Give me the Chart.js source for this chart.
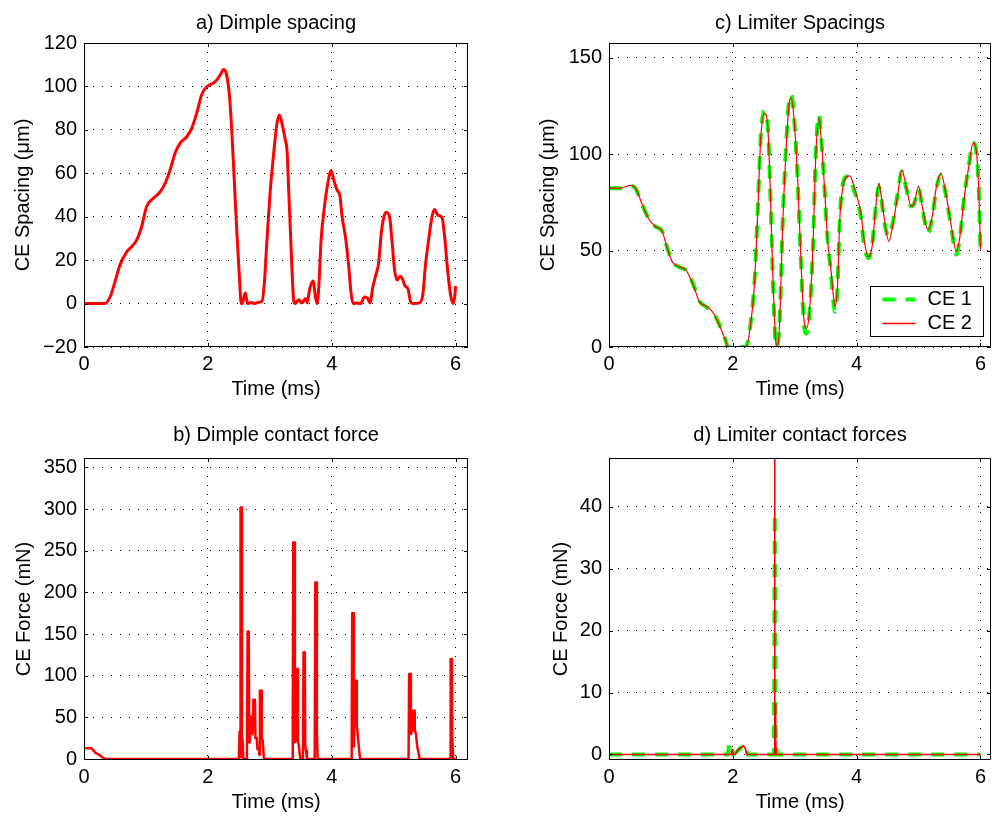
<!DOCTYPE html>
<html>
<head>
<meta charset="utf-8">
<title>CE spacing and contact forces</title>
<script src="https://cdn.jsdelivr.net/npm/chart.js@4.4.0/dist/chart.umd.min.js"></script>
<style>
    html, body { margin: 0; padding: 0; background: #fff; overflow: hidden; }
    canvas { position: absolute; }
</style>
</head>
<body>
<canvas id="chartA" width="496" height="410" style="left:0;top:0"></canvas>
<canvas id="chartB" width="496" height="409" style="left:0;top:410px"></canvas>
<canvas id="chartC" width="504" height="410" style="left:496px;top:0"></canvas>
<canvas id="chartD" width="504" height="409" style="left:496px;top:410px"></canvas>
<script>
// a) dimple spacing (um) against time (ms)
var dimpleTime = [0, 0.33, 0.42, 0.50, 0.58, 0.69, 0.77, 0.85, 0.93, 1.01,
    1.12, 1.23, 1.31, 1.39, 1.47, 1.55, 1.66, 1.74, 1.82, 1.90,
    1.98, 2.12, 2.20, 2.253, 2.297, 2.35, 2.388, 2.426, 2.469, 2.512,
    2.539, 2.566, 2.604, 2.641, 2.70, 2.76, 2.82, 2.873, 2.911, 2.954,
    3.008, 3.062, 3.116, 3.154, 3.197, 3.251, 3.278, 3.305, 3.343, 3.386,
    3.413, 3.467, 3.521, 3.575, 3.602, 3.645, 3.699, 3.737, 3.764, 3.791,
    3.828, 3.882, 3.936, 3.990, 4.033, 4.087, 4.130, 4.168, 4.221, 4.275,
    4.313, 4.346, 4.40, 4.464, 4.529, 4.583, 4.62, 4.664, 4.718, 4.756,
    4.799, 4.842, 4.880, 4.934, 4.972, 5.015, 5.058, 5.106, 5.149, 5.187,
    5.230, 5.273, 5.311, 5.419, 5.473, 5.510, 5.564, 5.618, 5.661, 5.715,
    5.780, 5.823, 5.866, 5.915, 5.958, 5.985, 6.00];
var dimpleSpacing = [0, 0, 3, 10, 17.7, 23.8, 26.2, 29.2, 35.4, 44.6,
    48.5, 51.5, 55.4, 61.5, 69.2, 73.8, 76.9, 80.8, 87.7, 96.2,
    99.7, 102.2, 105.3, 107.8, 106, 95.3, 78.4, 56.9, 32.3, 10.8,
    0, 0.8, 5, 0, 0.5, 0, 0.6, 1, 9.2, 29.2,
    52.2, 69.1, 82.9, 86.8, 82.9, 75.2, 70.6, 52.2, 26.1, 1.5,
    0, 1.8, 0.3, 2.3, 0.3, 6.9, 10.4, 3, 0, 7.7,
    29.2, 44.5, 55.3, 61.2, 56.9, 52.2, 49.9, 39.9, 30.7, 16.9,
    4.6, 0, 0.3, 0, 3, 2.3, 0.3, 7.7, 13.8, 18.4,
    32.2, 39.9, 41.9, 39.9, 29.2, 15.4, 10.8, 12.6, 10.8, 8,
    6.9, 0.8, 0, 0.3, 4.6, 16.9, 29.2, 39.9, 43.3, 40.7,
    39.6, 30.7, 16.9, 4.6, 0, 3, 8];

// b) dimple contact force (mN)
var dimpleForceTime = [0, 0.124, 0.178, 0.232, 0.286, 0.34,
    2.50, 2.512, 2.520, 2.527, 2.540, 2.550, 2.560, 2.572,
    2.630, 2.642, 2.660, 2.668, 2.680, 2.715, 2.722, 2.735, 2.760, 2.768,
    2.790, 2.800, 2.822, 2.832, 2.840, 2.862, 2.870, 2.885, 2.905,
    3.370, 3.378, 3.398, 3.405, 3.425, 3.432, 3.448, 3.455, 3.470, 3.485, 3.495,
    3.535, 3.545, 3.565, 3.572, 3.585, 3.600,
    3.725, 3.735, 3.752, 3.760, 3.772,
    4.322, 4.330, 4.350, 4.358, 4.380, 4.398, 4.405, 4.425, 4.445, 4.460,
    5.240, 5.250, 5.270, 5.278, 5.300, 5.310, 5.330, 5.340, 5.360, 5.380, 5.400, 5.420,
    5.912, 5.920, 5.940, 5.945, 5.955, 5.962, 6.00];
var dimpleForce = [12.9, 12.9, 8, 5.6, 2.8, 0,
    0, 33, 2, 302, 302, 4, 23, 0,
    0, 153, 153, 20, 51, 51, 30, 71, 71, 25,
    25, 12, 13, 5, 82, 82, 25, 22, 0,
    0, 260, 260, 20, 22, 108, 108, 22, 15, 5, 0,
    0, 128, 128, 15, 10, 0,
    0, 212, 212, 35, 0,
    0, 175, 175, 15, 94, 94, 40, 25, 8, 0,
    0, 102, 102, 30, 35, 58, 58, 35, 30, 15, 8, 0,
    0, 120, 120, 27, 27, 0, 0];

// c) limiter spacings (um), both contact elements on one time base
var limiterTime = [0, 0.19, 0.35, 0.43, 0.54, 0.65, 0.75, 0.86, 0.94, 1.02,
    1.13, 1.24, 1.35, 1.46, 1.56, 1.67, 1.78, 1.89, 1.92, 2.21,
    2.29, 2.35, 2.40, 2.45, 2.51, 2.56, 2.61, 2.65, 2.70, 2.72,
    2.76, 2.80, 2.86, 2.91, 2.94, 2.99, 3.05, 3.10, 3.15, 3.19,
    3.23, 3.29, 3.34, 3.39, 3.42, 3.48, 3.53, 3.58, 3.62, 3.65,
    3.69, 3.73, 3.78, 3.85, 3.89, 3.95, 4.02, 4.07, 4.12, 4.19,
    4.25, 4.31, 4.36, 4.39, 4.45, 4.52, 4.58, 4.66, 4.73, 4.80,
    4.88, 4.93, 5.00, 5.06, 5.15, 5.23, 5.28, 5.36, 5.44, 5.53,
    5.61, 5.66, 5.74, 5.82, 5.88, 5.93, 5.97, 6.00];
var ce1Spacing = [82.4, 82.4, 83.6, 82.2, 73.5, 66, 62.5, 60, 51.5, 44.5,
    41.5, 39.8, 33.5, 23.8, 21, 18.5, 11.8, 3, 0, 0,
    13, 34, 69, 108.5, 122.5, 117, 76, 32, 0, 0.5,
    16.5, 60, 104, 128.5, 131, 119, 84.5, 44, 12, 7,
    14, 48, 99.5, 120.5, 112, 83, 56, 40, 25, 18.3,
    30, 68, 85, 88.5, 88, 82, 75, 67, 53, 46,
    53, 73, 83, 79, 64, 57.5, 64, 79, 91, 82.5,
    73, 74.5, 82, 72.5, 59, 69, 81, 89, 79, 61.5,
    48, 55, 78.5, 96, 106, 102, 84, 52];
var ce2Spacing = [82.4, 82.4, 83.8, 82.4, 73.7, 66, 62.5, 59.9, 51.2, 44.3,
    41.7, 40, 33.1, 23.5, 21.3, 18.3, 11.4, 2.8, 0, 0,
    12.3, 33, 67.7, 107.5, 121.3, 116.2, 76.3, 33, 1, 0,
    15.8, 59, 102.3, 126.5, 129.1, 117.9, 85, 45.2, 14, 9.7,
    15.8, 48.6, 98.8, 118.7, 111, 83.3, 55.6, 41.7, 27.9, 21,
    31.3, 67.7, 83.3, 88.5, 88.8, 84.1, 76.3, 69.4, 55.6, 46.9,
    52.1, 72.9, 85, 79.8, 66, 54.7, 62.5, 78.1, 91.9, 83.3,
    72.9, 74.6, 83.3, 72.9, 60.8, 69.4, 81.5, 90.2, 79.8, 62.5,
    49.5, 55.6, 78.1, 95.4, 105.8, 102.3, 83.3, 50.4];

// d) limiter contact forces (mN)
var ce1ForceTime = [0, 1.92, 1.94, 1.96, 2.00, 2.06, 2.10, 2.16, 2.20, 2.24, 2.665, 2.678, 2.688, 2.70, 2.71, 6.0];
var ce1Force = [0, 0, 1.5, 0.2, 0, 0.4, 0.8, 1.4, 1.5, 0, 0, 39, 6, 2, 0, 0];
var ce2ForceTime = [0, 1.97, 1.99, 2.00, 2.04, 2.08, 2.12, 2.17, 2.20, 2.23, 2.668, 2.675, 2.680, 2.684, 2.692, 2.70, 6.0];
var ce2Force = [0, 0, 0.8, 0, 0, 0.7, 1.0, 1.4, 1.0, 0, 0, 60, 0.5, 8, 3, 0, 0];

// tick positions
var timeTicks = [0, 2, 4, 6];
var dimpleSpacingTicks = [-20, 0, 20, 40, 60, 80, 100, 120];
var dimpleForceTicks = [0, 50, 100, 150, 200, 250, 300, 350];
var limiterSpacingTicks = [0, 50, 100, 150];
var limiterForceTicks = [0, 10, 20, 30, 40];

var FONT = "'Liberation Sans', Arial, Helvetica, sans-serif";
var FONT_SIZE = 20;
var RED = '#ff0000';
var GREEN = '#00ff00';

Chart.defaults.color = '#000';

function toPoints(xs, ys) {
    var pts = [];
    for (var i = 0; i < xs.length; i++) {
        pts.push({ x: xs[i], y: ys[i] });
    }
    return pts;
}

function fixedTicks(values) {
    return function (scale) {
        scale.ticks = values.map(function (v) { return { value: v }; });
    };
}

function tickLabel(v) {
    return v < 0 ? '\u2212' + Math.abs(v) : String(v);
}

// axes box with short inward tick marks on all four sides
var axesBox = {
    id: 'axesBox',
    afterDatasetsDraw: function (chart) {
        var ctx = chart.ctx, a = chart.chartArea;
        var xs = chart.scales.x, ys = chart.scales.y, len = 4;
        ctx.save();
        ctx.strokeStyle = '#000';
        ctx.lineWidth = 1;
        ctx.setLineDash([]);
        ctx.beginPath();
        ctx.rect(a.left + 0.5, a.top + 0.5, a.right - a.left - 1, a.bottom - a.top - 1);
        xs.ticks.forEach(function (t) {
            var px = Math.round(xs.getPixelForValue(t.value)) + 0.5;
            ctx.moveTo(px, a.bottom); ctx.lineTo(px, a.bottom - len);
            ctx.moveTo(px, a.top); ctx.lineTo(px, a.top + len);
        });
        ys.ticks.forEach(function (t) {
            var py = Math.round(ys.getPixelForValue(t.value)) + 0.5;
            ctx.moveTo(a.left, py); ctx.lineTo(a.left + len, py);
            ctx.moveTo(a.right, py); ctx.lineTo(a.right - len, py);
        });
        ctx.stroke();
        ctx.restore();
    }
};

// boxed legend in the lower right corner of the plot
var cornerLegend = {
    id: 'cornerLegend',
    afterDraw: function (chart) {
        var ctx = chart.ctx, a = chart.chartArea;
        var w = 113, h = 50;
        var left = Math.round(a.right - 8 - w) + 0.5;
        var top = Math.round(a.bottom - 11 - h) + 0.5;
        ctx.save();
        ctx.fillStyle = '#fff';
        ctx.fillRect(left, top, w, h);
        ctx.strokeStyle = '#000';
        ctx.lineWidth = 1;
        ctx.strokeRect(left, top, w, h);
        ctx.font = FONT_SIZE + 'px ' + FONT;
        ctx.textBaseline = 'middle';
        ctx.fillStyle = '#000';
        chart.data.datasets.forEach(function (ds, i) {
            var y = top + 13 + i * 24;
            ctx.save();
            ctx.strokeStyle = ds.borderColor;
            ctx.lineWidth = Math.max(ds.borderWidth, 1.5);
            ctx.setLineDash(ds.borderDash || []);
            ctx.beginPath();
            ctx.moveTo(left + 12, y);
            ctx.lineTo(left + 45, y);
            ctx.stroke();
            ctx.restore();
            ctx.fillText(ds.label, left + 57, y);
        });
        ctx.restore();
    }
};

function panelOptions(p) {
    var font = { family: FONT, size: FONT_SIZE };
    return {
        responsive: false,
        animation: false,
        events: [],
        layout: { padding: { left: 0, right: p.padRight, top: 0, bottom: 0 } },
        plugins: {
            legend: { display: false },
            tooltip: { enabled: false },
            title: {
                display: true,
                text: p.title,
                fullSize: false,
                color: '#000',
                font: { family: FONT, size: FONT_SIZE, weight: 'normal' },
                padding: { top: p.titleTop, bottom: p.titleBottom }
            }
        },
        scales: {
            x: {
                type: 'linear',
                min: 0,
                max: p.xMax,
                afterFit: function (s) { s.height = p.xHeight; },
                afterBuildTicks: fixedTicks(timeTicks),
                ticks: { color: '#000', font: font, padding: 5, maxRotation: 0, autoSkip: false, callback: tickLabel },
                grid: { color: '#000', lineWidth: 1, drawTicks: false, borderDash: [1, 8] },
                border: { display: false, dash: [1, 8] },
                title: { display: true, text: 'Time (ms)', color: '#000', font: font, padding: { top: 0, bottom: p.xTitlePad } }
            },
            y: {
                type: 'linear',
                min: p.yMin,
                max: p.yMax,
                afterFit: function (s) { s.width = p.yWidth; },
                afterBuildTicks: fixedTicks(p.yTicks),
                ticks: { color: '#000', font: font, padding: 7, autoSkip: false, callback: tickLabel },
                grid: { color: '#000', lineWidth: 1, drawTicks: false, borderDash: [1, 8] },
                border: { display: false, dash: [1, 8] },
                title: { display: true, text: p.yTitle, color: '#000', font: font, padding: { top: p.yTitlePad, bottom: 0 } }
            }
        }
    };
}

function lineSet(label, pts, color, width, smooth, dash, order) {
    return {
        label: label,
        data: pts,
        borderColor: color,
        borderWidth: width,
        borderDash: dash || [],
        borderJoinStyle: 'round',
        borderCapStyle: 'butt',
        pointRadius: 0,
        fill: false,
        tension: smooth ? 0.4 : 0,
        cubicInterpolationMode: smooth ? 'monotone' : 'default',
        order: order || 0
    };
}

function drawDimpleSpacing() {
    new Chart(document.getElementById('chartA'), {
        type: 'line',
        data: { datasets: [lineSet('CE', toPoints(dimpleTime, dimpleSpacing), RED, 3, true)] },
        options: panelOptions({
            title: 'a) Dimple spacing', titleTop: 11.3, titleBottom: 7.7,
            padRight: 28, xMax: 6.2, xHeight: 63, xTitlePad: 9,
            yMin: -20, yMax: 120, yTicks: dimpleSpacingTicks, yWidth: 84,
            yTitle: 'CE Spacing (\u03bcm)', yTitlePad: 11.3
        }),
        plugins: [axesBox]
    });
}

function drawDimpleForce() {
    new Chart(document.getElementById('chartB'), {
        type: 'line',
        data: { datasets: [lineSet('CE', toPoints(dimpleForceTime, dimpleForce), RED, 2.5, false)] },
        options: panelOptions({
            title: 'b) Dimple contact force', titleTop: 13, titleBottom: 11,
            padRight: 28, xMax: 6.2, xHeight: 59, xTitlePad: 4.5,
            yMin: -1.2, yMax: 361.3, yTicks: dimpleForceTicks, yWidth: 84,
            yTitle: 'CE Force (mN)', yTitlePad: 12
        }),
        plugins: [axesBox]
    });
}

function drawLimiterSpacing() {
    new Chart(document.getElementById('chartC'), {
        type: 'line',
        data: {
            datasets: [
                lineSet('CE 1', toPoints(limiterTime, ce1Spacing), GREEN, 4, true, [13, 10], 1),
                lineSet('CE 2', toPoints(limiterTime, ce2Spacing), RED, 1.2, true, null, 0)
            ]
        },
        options: panelOptions({
            title: 'c) Limiter Spacings', titleTop: 11.3, titleBottom: 7.7,
            padRight: 9, xMax: 6.17, xHeight: 63, xTitlePad: 9,
            yMin: 0, yMax: 157.7, yTicks: limiterSpacingTicks, yWidth: 113,
            yTitle: 'CE Spacing (\u03bcm)', yTitlePad: 40
        }),
        plugins: [axesBox, cornerLegend]
    });
}

function drawLimiterForce() {
    new Chart(document.getElementById('chartD'), {
        type: 'line',
        data: {
            datasets: [
                lineSet('CE 1', toPoints(ce1ForceTime, ce1Force), GREEN, 4, false, [13, 10], 1),
                lineSet('CE 2', toPoints(ce2ForceTime, ce2Force), RED, 1.6, false, null, 0)
            ]
        },
        options: panelOptions({
            title: 'd) Limiter contact forces', titleTop: 13, titleBottom: 11,
            padRight: 9, xMax: 6.17, xHeight: 59, xTitlePad: 4.5,
            yMin: -0.9, yMax: 47.9, yTicks: limiterForceTicks, yWidth: 113,
            yTitle: 'CE Force (mN)', yTitlePad: 53
        }),
        plugins: [axesBox]
    });
}

drawDimpleSpacing();
drawDimpleForce();
drawLimiterSpacing();
drawLimiterForce();
</script>
</body>
</html>
